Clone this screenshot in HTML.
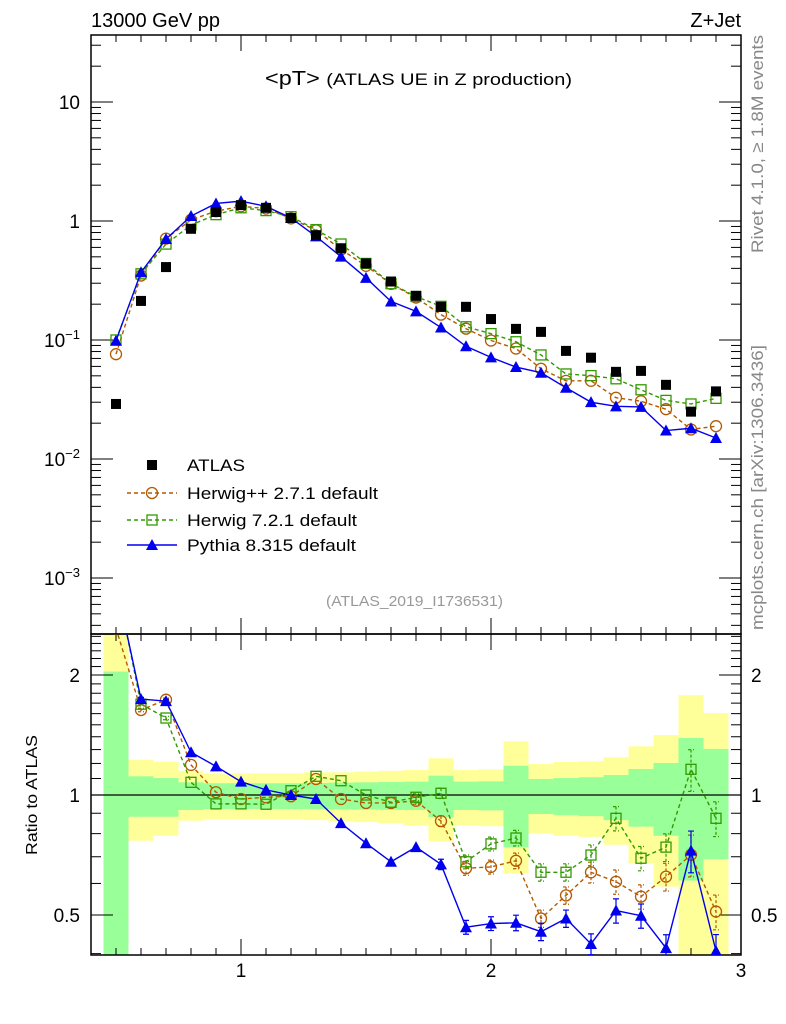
<!DOCTYPE html>
<html><head><meta charset="utf-8"><style>
body{margin:0;background:#fff;}
svg{display:block;font-family:"Liberation Sans",sans-serif;}
</style></head><body>
<svg id="c" width="786" height="1024" xmlns="http://www.w3.org/2000/svg">
<text x="91" y="27" font-size="20">13000 GeV pp</text>
<text x="741" y="27" font-size="20" text-anchor="end">Z+Jet</text>
<text x="265" y="85" font-size="20" textLength="307" lengthAdjust="spacingAndGlyphs">&lt;pT&gt; <tspan font-size="17">(ATLAS UE in Z production)</tspan></text>
<text x="326" y="606" font-size="15" fill="#999" textLength="177" lengthAdjust="spacingAndGlyphs">(ATLAS_2019_I1736531)</text>
<text transform="translate(763,253) rotate(-90)" font-size="17" fill="#888" textLength="218" lengthAdjust="spacingAndGlyphs">Rivet 4.1.0, ≥ 1.8M events</text>
<text transform="translate(763,630) rotate(-90)" font-size="17" fill="#888" textLength="285" lengthAdjust="spacingAndGlyphs">mcplots.cern.ch [arXiv:1306.3436]</text>
<text transform="translate(37,795) rotate(-90)" font-size="16" text-anchor="middle" textLength="120" lengthAdjust="spacingAndGlyphs">Ratio to ATLAS</text>
<g id="bands"></g><g id="g"></g>
</svg>
<script>
const xs=[0.5,0.6,0.7,0.8,0.9,1.0,1.1,1.2,1.3,1.4,1.5,1.6,1.7,1.8,1.9,2.0,2.1,2.2,2.3,2.4,2.5,2.6,2.7,2.8,2.9];
const atlas=[0.029,0.213,0.41,0.86,1.19,1.36,1.29,1.06,0.76,0.59,0.44,0.31,0.235,0.19,0.19,0.15,0.124,0.117,0.081,0.071,0.054,0.055,0.042,0.025,0.037];
const ratioHpp=[2.62,1.634,1.734,1.19,1.016,0.977,0.987,0.993,1.097,0.977,0.955,0.955,0.967,0.86,0.655,0.66,0.684,0.49,0.56,0.64,0.606,0.556,0.624,0.708,0.51];
const ratioH7=[3.45,1.69,1.56,1.076,0.95,0.95,0.948,1.025,1.114,1.086,1.0,0.959,0.987,1.01,0.68,0.754,0.78,0.64,0.64,0.707,0.874,0.694,0.74,1.16,0.874];
const ratioPy=[3.4,1.74,1.72,1.28,1.18,1.08,1.03,1.0,0.977,0.85,0.757,0.68,0.74,0.67,0.466,0.476,0.478,0.454,0.49,0.423,0.513,0.498,0.413,0.725,0.406];
const errRel=[0.01,0.01,0.01,0.01,0.01,0.01,0.01,0.01,0.01,0.01,0.01,0.015,0.02,0.03,0.04,0.04,0.045,0.05,0.05,0.06,0.07,0.07,0.08,0.12,0.1];
const yelUp=[3,1.226,1.212,1.15,1.133,1.133,1.133,1.133,1.14,1.14,1.145,1.15,1.155,1.236,1.155,1.16,1.363,1.196,1.21,1.215,1.243,1.325,1.414,1.78,1.605];
const yelDn=[0.3,0.768,0.79,0.862,0.87,0.87,0.87,0.87,0.865,0.86,0.855,0.85,0.838,0.765,0.838,0.835,0.636,0.801,0.79,0.785,0.75,0.674,0.589,0.3,0.3];
const grnUp=[2.04,1.114,1.103,1.076,1.07,1.07,1.07,1.07,1.072,1.074,1.076,1.078,1.08,1.118,1.08,1.082,1.184,1.097,1.103,1.108,1.122,1.162,1.203,1.39,1.305];
const grnDn=[0.3,0.882,0.882,0.917,0.922,0.922,0.922,0.922,0.921,0.92,0.919,0.918,0.917,0.879,0.917,0.915,0.739,0.896,0.89,0.885,0.865,0.833,0.79,0.61,0.69];
const NS="http://www.w3.org/2000/svg";
const X0=91,X1=741,T=35,MB=634,RB=955;
const X=v=>X0+(v-0.4)/2.6*(X1-X0);
const Ym=v=>221-119*Math.log10(v);
const Yr=v=>795-120*Math.log2(v);
const g=document.getElementById('g'),bg=document.getElementById('bands');
function el(tag,at,par){const e=document.createElementNS(NS,tag);for(const k in at)e.setAttribute(k,at[k]);(par||g).appendChild(e);return e;}
const clipM=el('clipPath',{id:'cm'});el('rect',{x:X0,y:T,width:X1-X0,height:MB-T},clipM);
const clipR=el('clipPath',{id:'cr'});el('rect',{x:X0,y:MB,width:X1-X0,height:RB-MB},clipR);
for(let i=0;i<xs.length;i++){
 const a=X(xs[i]-0.05),b=X(xs[i]+0.05);
 let r=el('rect',{x:a,y:Yr(yelUp[i]),width:b-a,height:Yr(yelDn[i])-Yr(yelUp[i]),fill:'#ffff99','clip-path':'url(#cr)'},bg);
 
 r=el('rect',{x:a,y:Yr(grnUp[i]),width:b-a,height:Yr(grnDn[i])-Yr(grnUp[i]),fill:'#99ff99','clip-path':'url(#cr)'},bg);
 
}
el('line',{x1:X0,x2:X1,y1:Yr(1),y2:Yr(1),stroke:'#000','stroke-width':1.2});
el('rect',{x:X0,y:T,width:X1-X0,height:MB-T,fill:'none',stroke:'#000','stroke-width':1.5});
el('rect',{x:X0,y:MB,width:X1-X0,height:RB-MB,fill:'none',stroke:'#000','stroke-width':1.5});
for(let k=4;k<=30;k++){const v=k/10,x=X(v),maj=k%10==0,L=maj?16:7;
 [[T,1],[MB,-1],[MB,1],[RB,-1]].forEach(([y,d])=>el('line',{x1:x,x2:x,y1:y,y2:y+d*L,stroke:'#000'}));
 if(maj){const t=el('text',{x:x,y:977,'font-size':19,'text-anchor':'middle'});t.textContent=String(v);}}
for(let e=-4;e<=1;e++)for(let m=1;m<10;m++){const v=m*Math.pow(10,e),y=Ym(v);if(y<T||y>MB)continue;const L=m==1?22:10;
 el('line',{x1:X0,x2:X0+L,y1:y,y2:y,stroke:'#000'});el('line',{x1:X1,x2:X1-L,y1:y,y2:y,stroke:'#000'});}
const yl=[["10",null,10],["1",null,1],["10","−1",0.1],["10","−2",0.01],["10","−3",0.001]];
yl.forEach(([b,s,v])=>{const t=el('text',{x:80,y:Ym(v)+7,'font-size':19,'text-anchor':'end'});
 if(s){t.textContent=b;const sp=el('tspan',{dy:-8,'font-size':13},t);sp.textContent=s;}else t.textContent=b;});
for(let k=4;k<=25;k++){const v=k/10,y=Yr(v);if(y<MB||y>RB)continue;const maj=(k==5||k==10||k==20),L=maj?22:10;
 el('line',{x1:X0,x2:X0+L,y1:y,y2:y,stroke:'#000'});el('line',{x1:X1,x2:X1-L,y1:y,y2:y,stroke:'#000'});}
[["2",2],["1",1],["0.5",0.5]].forEach(([s,v])=>{let t=el('text',{x:80,y:Yr(v)+7,'font-size':19,'text-anchor':'end'});t.textContent=s;
 t=el('text',{x:751,y:Yr(v)+7,'font-size':19});t.textContent=s;});
function marker(type,x,y,col,par){
 if(type=='fsq')return el('rect',{x:x-5,y:y-5,width:10,height:10,fill:'#000'},par);
 if(type=='circ')return el('circle',{cx:x,cy:y,r:5.5,fill:'none',stroke:col,'stroke-width':1.3},par);
 if(type=='osq')return el('rect',{x:x-5,y:y-5,width:10,height:10,fill:'none',stroke:col,'stroke-width':1.3},par);
 return el('polygon',{points:`${x},${y-6} ${x-6},${y+5} ${x+6},${y+5}`,fill:col},par);}
const series=[
 {name:'herwigpp',ratio:ratioHpp,col:'#b35900',type:'circ',dash:'4,3'},
 {name:'herwig7',ratio:ratioH7,col:'#339900',type:'osq',dash:'4,3'},
 {name:'pythia',ratio:ratioPy,col:'#0000ee',type:'tri',dash:null}];
const gm=el('g',{'clip-path':'url(#cm)'}),gr=el('g',{'clip-path':'url(#cr)'});
series.forEach(s=>{
 const vals=s.ratio.map((r,i)=>r*atlas[i]);
 const pm=vals.map((v,i)=>X(xs[i])+','+Ym(v)).join(' ');
 const pr=s.ratio.map((v,i)=>X(xs[i])+','+Yr(v)).join(' ');
 let at={fill:'none',stroke:s.col,'stroke-width':1.4};if(s.dash)at['stroke-dasharray']=s.dash;
 let l=el('polyline',Object.assign({points:pm},at),gm);
 l=el('polyline',Object.assign({points:pr},at),gr);
 xs.forEach((x,i)=>{
  const e=errRel[i]*s.ratio[i];
  if(e>0.015){const y1=Yr(s.ratio[i]+e),y2=Yr(s.ratio[i]-e),cx=X(x);
   const eb=el('path',{d:`M${cx},${y1}V${y2}M${cx-3},${y1}H${cx+3}M${cx-3},${y2}H${cx+3}`,fill:'none',stroke:s.col,'stroke-width':1.2},gr);if(s.dash)eb.setAttribute('stroke-dasharray','3,2');}
  let m=marker(s.type,X(x),Ym(vals[i]),s.col,gm);
  m=marker(s.type,X(x),Yr(s.ratio[i]),s.col,gr);
 });
});
xs.forEach((x,i)=>{const m=marker('fsq',X(x),Ym(atlas[i]),'#000',gm);});
const leg=el('g',{});
const le=[['ATLAS','fsq','#000',null,465,58],['Herwig++ 2.7.1 default','circ','#b35900','4,3',493,191],['Herwig 7.2.1 default','osq','#339900','4,3',520,170],['Pythia 8.315 default','tri','#0000ee',null,545,169]];
le.forEach(([t,ty,c,d,y,w])=>{
 if(ty!='fsq'){let at={x1:127,x2:177,y1:y,y2:y,stroke:c,'stroke-width':1.4};if(d)at['stroke-dasharray']=d;el('line',at,leg);}
 const m=marker(ty,152,y,c,leg);
 const tx=el('text',{x:187,y:y+6,'font-size':17,textLength:w,lengthAdjust:'spacingAndGlyphs'},leg);tx.textContent=t;});
</script>
</body></html>
